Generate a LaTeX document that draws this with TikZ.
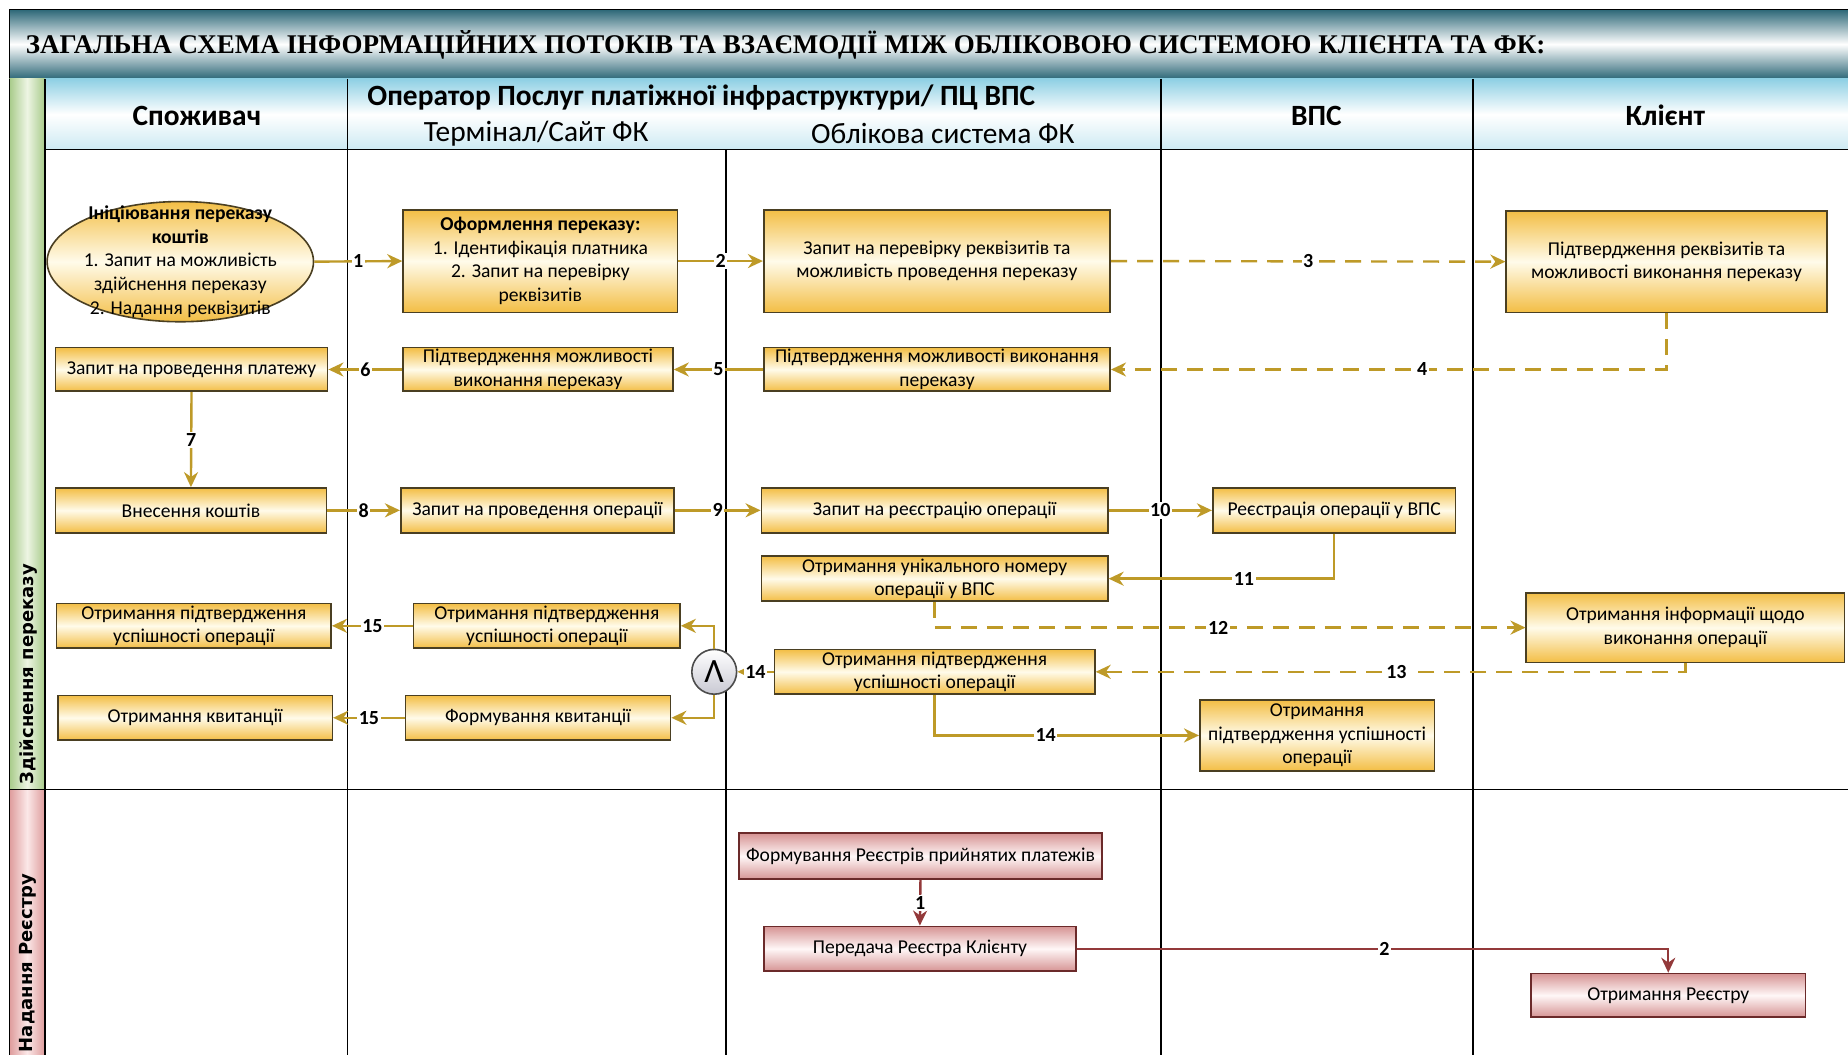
\documentclass[tikz,border=0pt]{standalone}
\usepackage{fontspec}
\setmainfont{Carlito}
\newfontfamily\titlefont{Liberation Serif}
\newfontfamily\lanefont{DejaVu Sans}
\usepackage{tikz}
\usetikzlibrary{arrows.meta,shapes.geometric}

\definecolor{goldtop}{HTML}{F3BE45}
\definecolor{goldlight}{HTML}{FFFBEA}
\definecolor{boxborder}{HTML}{4A3F22}
\definecolor{flowcol}{HTML}{BE9A28}
\definecolor{redtop}{HTML}{D69494}
\definecolor{redlight}{HTML}{FFF7F7}
\definecolor{redborder}{HTML}{6B2A2A}
\definecolor{redcol}{HTML}{93393A}
\definecolor{titleteal}{HTML}{2C6777}
\definecolor{hdrblue}{HTML}{8FD0E4}
\definecolor{lanegreen}{HTML}{A8CB8A}
\definecolor{lanegreenl}{HTML}{EDF5E4}
\definecolor{lanepink}{HTML}{DE9C9C}
\definecolor{lanepinkl}{HTML}{FBE8E8}
\definecolor{andgray}{HTML}{C9C9D3}

\begin{document}
\begin{tikzpicture}[x=0.5893pt,y=-0.5893pt]
  \tikzset{%
    box/.style={draw=boxborder, line width=0.8pt, inner sep=0pt, align=center,
      font=\fontsize{9.8}{11.8}\selectfont},
    goldbox/.style={box, top color=goldtop, bottom color=goldtop, middle color=goldlight},
    redbox/.style={box, draw=redborder, top color=redtop, bottom color=redtop, middle color=redlight},
    flow/.style={draw=flowcol, line width=1.2pt, -{Stealth[length=7.5pt,width=7pt]}},
    dflow/.style={flow, dash pattern=on 8pt off 5pt},
    rflow/.style={flow, draw=redcol},
    num/.style={fill=white, inner sep=0.8pt, text=black,
      font=\bfseries\fontsize{10}{10}\selectfont},
    lanetext/.style={rotate=90, anchor=west, inner sep=0pt,
      font=\lanefont\bfseries\fontsize{9}{9}\selectfont},
    headtext/.style={font=\fontsize{14.7}{14.7}\selectfont},
    headbold/.style={font=\bfseries\fontsize{14.7}{14.7}\selectfont}
  }
  % #2 name, #3-#6 corners x1,y1,x2,y2 (px), #7 text
  \newcommand\FlowBox[7][goldbox]{%
    \pgfmathsetmacro\bw{(#5-#3)*0.5893}
    \pgfmathsetmacro\bh{(#6-#4)*0.5893}
    \node[#1, minimum width=\bw pt, minimum height=\bh pt] (#2)
      at ({(#3+#5)/2},{(#4+#6)/2}) {#7};}

  \fill[white] (0,0) rectangle (1568,895);
  \useasboundingbox (0,0) rectangle (1568,895);

  % title and header
  \shade[top color=titleteal, bottom color=titleteal, middle color=white] (8,8) rectangle (1568,67);
  \draw[line width=0.8pt] (1568,8) -- (8,8) -- (8,67) -- (1568,67);
  \node[anchor=west, font=\titlefont\bfseries\fontsize{13.5}{14}\selectfont] (title) at (16,38)
    {ЗАГАЛЬНА СХЕМА ІНФОРМАЦІЙНИХ ПОТОКІВ ТА ВЗАЄМОДІЇ МІЖ ОБЛІКОВОЮ СИСТЕМОЮ КЛІЄНТА ТА ФК:};
  \shade[top color=hdrblue, bottom color=hdrblue!45, middle color=white] (38,67) rectangle (1568,127);

  % swimlanes
  \shade[left color=lanegreen, right color=lanegreen, middle color=lanegreenl] (8,67) rectangle (38,670);
  \shade[left color=lanepink, right color=lanepink, middle color=lanepinkl] (8,670) rectangle (38,895);
  \draw[line width=0.8pt] (8,67) -- (8,895) (38,67) -- (38,895);
  \draw[line width=0.8pt] (38,127) -- (1568,127) (8,670) -- (1568,670);
  \foreach \xc in {295,985,1250} \draw[line width=0.8pt] (\xc,67) -- (\xc,895);
  \draw[line width=0.8pt] (616,127) -- (616,895);
  \node[lanetext] (laneA) at (24,666) {Здійснення переказу};
  \node[lanetext] (laneB) at (24,893) {Надання Реєстру};

  \node[headbold] (hSp) at (167,98) {Споживач};
  \node[headbold] (hOp) at (595,83) {Оператор Послуг платіжної інфраструктури/ ПЦ ВПС};
  \node[headtext] (hTerm) at (455,113) {Термінал/Сайт ФК};
  \node[headtext] (hObl) at (800,113) {Облікова система ФК};
  \node[headbold] (hVPS) at (1117,98) {ВПС};
  \node[headbold] (hKl) at (1413,98) {Клієнт};

  % lane 1: steps
  \node[goldbox, ellipse, minimum width=133.2pt, minimum height=60.1pt] (init) at (153,222) {};
  \node[align=center, inner sep=0pt, font=\fontsize{9.8}{11.8}\selectfont] (initTxt) at (init.center)
    {\textbf{Ініціювання переказу}\\\textbf{коштів}\\1. Запит на можливість\\здійснення переказу\\2. Надання реквізитів};
  \FlowBox{oform}{342}{178}{575}{265}{\textbf{Оформлення переказу:}\\1. Ідентифікація платника\\2. Запит на перевірку\\реквізитів}
  \FlowBox{perevirka}{648}{178}{942}{265}{Запит на перевірку реквізитів та\\можливість проведення переказу}
  \FlowBox{pidtvKl}{1278}{179}{1550}{265}{Підтвердження реквізитів та\\можливості виконання переказу}
  \FlowBox{pidtvFK}{648}{295}{942}{332}{Підтвердження можливості виконання\\переказу}
  \FlowBox{pidtvT}{342}{295}{571}{332}{Підтвердження можливості\\виконання переказу}
  \FlowBox{zapPlat}{47}{295}{278}{332}{Запит на проведення платежу}
  \FlowBox{vnes}{47}{414}{277}{452}{Внесення коштів}
  \FlowBox{zapOper}{340}{414}{572}{452}{Запит на проведення операції}
  \FlowBox{zapReestr}{646}{414}{940}{452}{Запит на реєстрацію операції}
  \FlowBox{reestrVPS}{1029}{414}{1235}{452}{Реєстрація операції у ВПС}
  \FlowBox{unikNom}{646}{472}{940}{510}{Отримання унікального номеру\\операції у ВПС}
  \FlowBox{infoKl}{1295}{503}{1565}{562}{Отримання інформації щодо\\виконання операції}
  \FlowBox{uspFK}{657}{551}{929}{589}{Отримання підтвердження\\успішності операції}
  \FlowBox{uspT}{351}{512}{577}{550}{Отримання підтвердження\\успішності операції}
  \FlowBox{uspS}{48}{512}{281}{550}{Отримання підтвердження\\успішності операції}
  \FlowBox{formKv}{344}{590}{569}{628}{Формування квитанції}
  \FlowBox{kvyt}{49}{590}{282}{628}{Отримання квитанції}
  \FlowBox{uspVPS}{1018}{594}{1217}{654}{Отримання\\підтвердження успішності\\операції}
  \node[circle, draw=gray!60!black, line width=0.8pt, inner sep=0pt, minimum size=22.4pt,
    top color=white, bottom color=andgray, font=\fontsize{17}{17}\selectfont] (I) at (606,570) {Λ};

  % lane 1: flows
  \draw[flow] (init.east) -- node[num]{1} (oform.west);
  \draw[flow] (oform.east) -- node[num]{2} (perevirka.west);
  \draw[dflow] (perevirka.east) -- node[num]{3} (pidtvKl.west);
  \draw[dflow] (pidtvKl.south) |- node[num,pos=0.72]{4} (pidtvFK.east);
  \draw[flow] (pidtvFK.west) -- node[num]{5} (pidtvT.east);
  \draw[flow] (pidtvT.west) -- node[num]{6} (zapPlat.east);
  \draw[flow] (zapPlat.south) -- node[num]{7} (vnes.north);
  \draw[flow] (vnes.east) -- node[num]{8} (zapOper.west);
  \draw[flow] (zapOper.east) -- node[num]{9} (zapReestr.west);
  \draw[flow] (zapReestr.east) -- node[num]{10} (reestrVPS.west);
  \draw[flow] (reestrVPS.south) |- node[num,pos=0.7]{11} (unikNom.east);
  \draw[dflow] (unikNom.south) |- node[num,pos=0.74]{12} (infoKl.west);
  \draw[dflow] (infoKl.south) |- node[num,pos=0.745]{13} (uspFK.east);
  \draw[flow] (uspFK.west) -- node[num]{14} (I.east);
  \draw[flow] (uspFK.south) |- node[num,pos=0.71]{14} (uspVPS.west);
  \draw[flow] (I.north) |- (uspT.east);
  \draw[flow] (I.south) |- (formKv.east);
  \draw[flow] (uspT.west) -- node[num]{15} (uspS.east);
  \draw[flow] (formKv.west) -- node[num]{15} (kvyt.east);

  % lane 2
  \FlowBox[redbox]{formReestr}{627}{707}{935}{746}{Формування Реєстрів прийнятих платежів}
  \FlowBox[redbox]{peredacha}{648}{786}{913}{824}{Передача Реєстра Клієнту}
  \FlowBox[redbox]{otrReestr}{1299}{826}{1532}{863}{Отримання Реєстру}
  \draw[rflow] (formReestr.south) -- node[num]{1} (peredacha.north);
  \draw[rflow] (peredacha.east) -| node[num,pos=0.26]{2} (otrReestr.north);
\end{tikzpicture}
\end{document}
